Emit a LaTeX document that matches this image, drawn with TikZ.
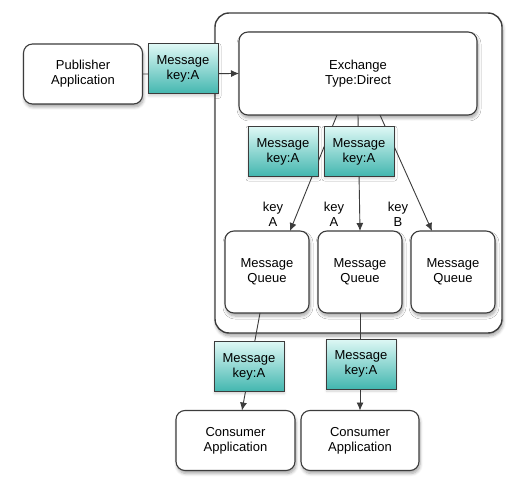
\documentclass[tikz,border=0pt]{standalone}
\usepackage{fontspec}
\setmainfont{Liberation Sans}
\usetikzlibrary{arrows.meta,shadows.blur}
\definecolor{msgtop}{RGB}{222,248,245}
\definecolor{msgbot}{RGB}{66,182,175}
\definecolor{edge}{RGB}{60,60,60}
\begin{document}
\begin{tikzpicture}[x=1pt,y=-1pt,inner sep=0pt,outer sep=0pt,line width=0.9pt,
>={Latex[length=8pt,width=7pt]},font=\fontsize{13}{15}\selectfont,
roundblock/.style={draw=edge,rectangle,rounded corners=9pt,fill=white,align=center,line width=1.1pt,
  blur shadow={shadow xshift=1pt,shadow yshift=-3pt,shadow blur steps=6,shadow blur radius=3pt,shadow opacity=35}},
appblock/.style={roundblock,minimum width=119pt,minimum height=60pt},
queueblock/.style={roundblock,minimum width=84pt,minimum height=82pt},
msgblock/.style={draw=edge,rectangle,align=center,line width=1pt,minimum width=70pt,minimum height=50pt,
  top color=msgtop,bottom color=msgbot,
  blur shadow={shadow xshift=0.5pt,shadow yshift=-2pt,shadow blur steps=5,shadow blur radius=2.5pt,shadow opacity=18}},
keylabel/.style={align=center}]
\useasboundingbox (0,0) rectangle (509,481);
% broker box
\draw (358.5,173) node[roundblock,rounded corners=14pt,line width=1.4pt,minimum width=287pt,minimum height=320pt] (broker) {};
\draw (83,74) node[appblock] (pub) {Publisher\\Application};
\draw (358,73.5) node[roundblock,minimum width=238pt,minimum height=83pt] (exch) {Exchange\\Type:Direct};
\draw (267,272) node[queueblock] (q1) {Message\\Queue};
\draw (360,272) node[queueblock] (q2) {Message\\Queue};
\draw (453,272) node[queueblock] (q3) {Message\\Queue};
\draw (235.5,440.5) node[appblock] (con1) {Consumer\\Application};
\draw (360,440.5) node[appblock,minimum width=118pt] (con2) {Consumer\\Application};
% routes
\draw[->,draw=edge] (pub.east) -- (exch.west);
\draw[->,draw=edge] ([xshift=-21pt]exch.south) -- ([xshift=23pt]q1.north);
\draw[->,draw=edge] (exch.south) -- (q2.north);
\draw[->,draw=edge] ([xshift=22pt]exch.south) -- ([xshift=-21pt]q3.north);
\draw[->,draw=edge] ([xshift=-7pt]q1.south) -- ([xshift=6.5pt]con1.north);
\draw[->,draw=edge] (q2.south) -- (con2.north);
% messages
\draw (183,69) node[msgblock] (msg0) {Message\\key:A};
\draw (283,151.5) node[msgblock] (msgA) {Message\\key:A};
\draw (359,151.5) node[msgblock] (msgB) {Message\\key:A};
\draw (249,366.5) node[msgblock] (msgC) {Message\\key:A};
\draw (361,364) node[msgblock] (msgD) {Message\\key:A};
\draw (273,214) node[keylabel] (keyA1) {key\\A};
\draw (334,214) node[keylabel] (keyA2) {key\\A};
\draw (398,214) node[keylabel] (keyB) {key\\B};
\end{tikzpicture}
\end{document}
